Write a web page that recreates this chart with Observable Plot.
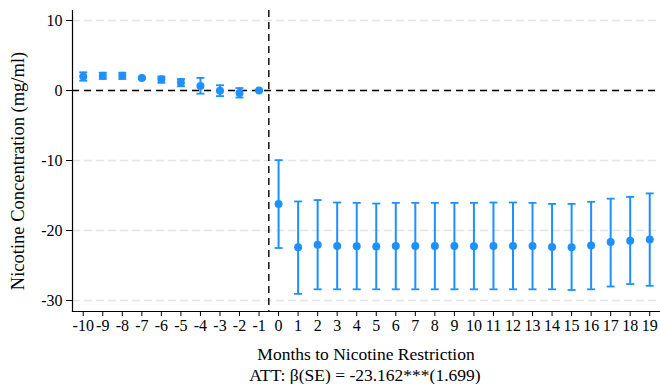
<!DOCTYPE html>
<html>
<head>
<meta charset="utf-8">
<script src="https://cdn.jsdelivr.net/npm/d3@7"></script>
<script src="https://cdn.jsdelivr.net/npm/@observablehq/plot@0.6"></script>
<style>
  body { margin: 0; background: #fff; }
  #chart svg, #chart svg text { font-family: "Liberation Serif", "Times New Roman", serif !important; }
  #caption { font-family: "Liberation Serif", "Times New Roman", serif; font-size: 17.5px; text-align: center; margin-left: 70px; width: 590px; line-height: 18px; color: #000; }
</style>
</head>
<body>
<div id="chart"></div>
<script>
const months = [-10, -9, -8, -7, -6, -5, -4, -3, -2, -1, 0, 1, 2, 3, 4, 5, 6, 7, 8, 9, 10, 11, 12, 13, 14, 15, 16, 17, 18, 19];
const estimate = [2.0, 2.1, 2.1, 1.8, 1.6, 1.15, 0.65, -0.05, -0.35, 0,
  -16.2, -22.4, -22.05, -22.2, -22.25, -22.3, -22.2, -22.2, -22.2, -22.2,
  -22.25, -22.2, -22.2, -22.2, -22.35, -22.4, -22.15, -21.65, -21.45, -21.3];
const ciLow = [1.4, 1.65, 1.65, 1.65, 1.1, 0.6, -0.45, -0.8, -1.0, 0,
  -22.5, -29.05, -28.4, -28.4, -28.4, -28.4, -28.4, -28.4, -28.4, -28.4,
  -28.4, -28.4, -28.4, -28.4, -28.4, -28.5, -28.4, -28.0, -27.65, -27.9];
const ciHigh = [2.6, 2.55, 2.55, 1.95, 2.0, 1.65, 1.8, 0.75, 0.35, 0,
  -9.95, -15.85, -15.65, -16.0, -16.05, -16.15, -16.05, -16.05, -16.05, -16.05,
  -16.05, -16.0, -16.0, -16.05, -16.2, -16.2, -15.9, -15.45, -15.2, -14.7];
const yTicks = [-30, -20, -10, 0, 10];
const xTitle = "Months to Nicotine Restriction";
const yTitle = "Nicotine Concentration (mg/ml)";
const captionText = "ATT: \u03B2(SE) = -23.162***(1.699)";

const rows = months.map((m, i) => ({month: m, est: estimate[i], lo: ciLow[i], hi: ciHigh[i]}));
const capSymbol = {draw(ctx, size) { const r = 4; ctx.moveTo(-r, 0); ctx.lineTo(r, 0); }};
const blue = "#1E90FF";

const chart = Plot.plot({
  width: 660,
  height: 366,
  marginTop: 10,
  marginLeft: 72,
  marginRight: 1,
  marginBottom: 55,
  style: {fontFamily: "'Liberation Serif', 'Times New Roman', serif", fontSize: "16px", color: "#000", background: "#fff"},
  x: {domain: [-10.55, 19.5], ticks: months, tickFormat: d => String(d), tickSize: 5, tickPadding: 3, label: null},
  y: {domain: [-31.57, 11.43], ticks: yTicks, tickFormat: d => String(d), tickSize: 6, tickPadding: 4, label: null},
  marks: [
    Plot.gridY(yTicks, {stroke: "#e3e3e3", strokeOpacity: 1, strokeWidth: 1.3, strokeDasharray: "8,4"}),
    Plot.ruleY([0], {stroke: "#000", strokeWidth: 1.4, strokeDasharray: "7,5"}),
    Plot.ruleX([-0.5], {stroke: "#000", strokeWidth: 1.4, strokeDasharray: "7,5"}),
    Plot.frame({anchor: "left", stroke: "#000", strokeWidth: 1.2}),
    Plot.frame({anchor: "bottom", stroke: "#000", strokeWidth: 1.2}),
    Plot.ruleX(rows, {x: "month", y1: "lo", y2: "hi", stroke: blue, strokeWidth: 2}),
    Plot.dot(rows, {x: "month", y: "lo", symbol: capSymbol, stroke: blue, strokeWidth: 1.8, r: 4}),
    Plot.dot(rows, {x: "month", y: "hi", symbol: capSymbol, stroke: blue, strokeWidth: 1.8, r: 4}),
    Plot.dot(rows, {x: "month", y: "est", fill: blue, r: 4}),
    Plot.text([xTitle], {text: d => d, frameAnchor: "bottom", dy: 48, lineAnchor: "bottom", fontSize: 17.5}),
    Plot.text([yTitle], {text: d => d, frameAnchor: "left", dx: -62, dy: 10, rotate: -90, textAnchor: "middle", lineAnchor: "top", fontSize: 18.5})
  ]
});
document.getElementById("chart").appendChild(chart);
const cap = document.createElement("div");
cap.id = "caption";
cap.textContent = captionText;
document.body.appendChild(cap);
</script>
</body>
</html>
